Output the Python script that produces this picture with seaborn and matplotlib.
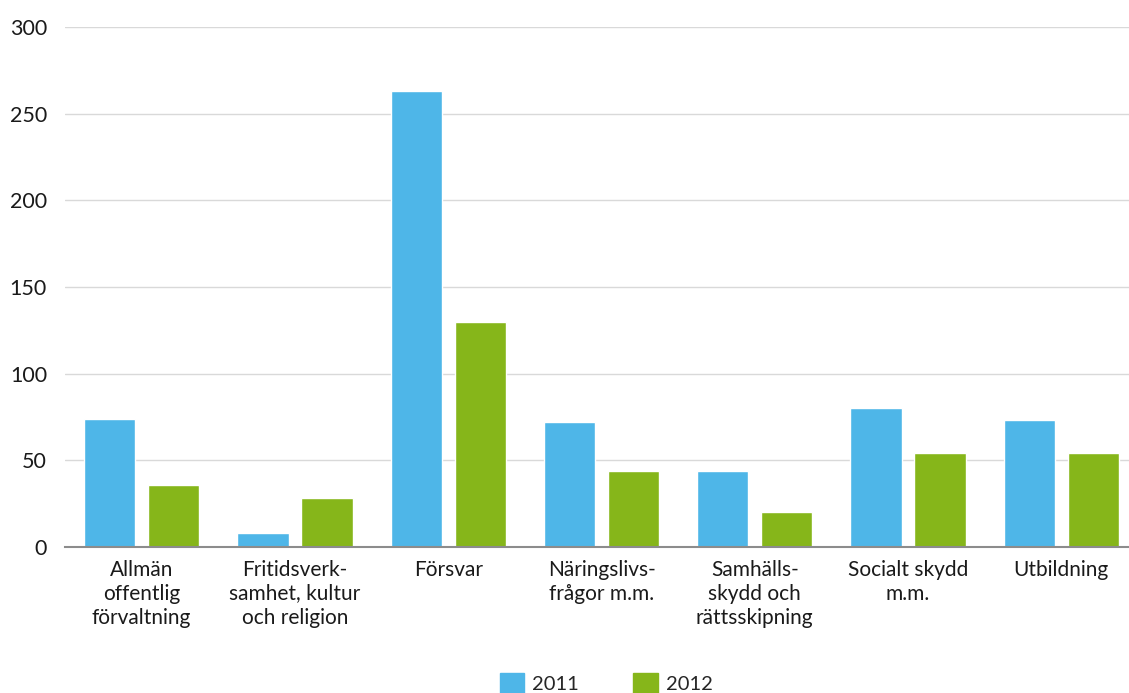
import pandas as pd
import numpy as np
import matplotlib.pyplot as plt
import seaborn as sns

categories = ["Allmän\noffentlig\nförvaltning", "Fritidsverk-\nsamhet, kultur\noch religion",
              "Försvar", "Näringslivs-\nfrågor m.m.", "Samhälls-\nskydd och\nrättsskipning",
              "Socialt skydd\nm.m.", "Utbildning"]
values_2011 = [74, 8, 263, 72, 44, 80, 73]
values_2012 = [36, 28, 130, 44, 20, 54, 54]
years = ["2011", "2012"]
colors = ["#4EB6E8", "#86B61A"]

df = pd.DataFrame({
    "kategori": categories * 2,
    "värde": values_2011 + values_2012,
    "år": [years[0]] * len(categories) + [years[1]] * len(categories),
})

sns.set_style("white")
plt.rcParams['font.family'] = ['Lato', 'DejaVu Sans']

fig = plt.figure(figsize=(11.29, 6.93), dpi=100)
ax = fig.add_axes([65 / 1129, 146 / 693, 1073 / 1129, 520 / 693])

sns.barplot(data=df, x="kategori", y="värde", hue="år", palette=colors,
            width=0.836, gap=0.2, ax=ax, legend=False, saturation=1)

ax.set_xlim(-0.5, len(categories) - 0.5)
ax.set_ylim(0, 300)
ax.set_yticks(range(0, 301, 50))
ax.yaxis.grid(True, color="#d9d9d9", linewidth=1)
ax.set_axisbelow(True)
ax.set_xlabel("")
ax.set_ylabel("")

for s in ["top", "right", "left"]:
    ax.spines[s].set_visible(False)
ax.spines["bottom"].set_color("#8c8c8c")
ax.spines["bottom"].set_linewidth(1.5)

ax.set_xticks(np.arange(len(categories)))
ax.set_xticklabels(categories, fontsize=15, color="#1a1a1a", linespacing=1.25, va="top")
ax.set_xticks(np.arange(0.5, len(categories) - 0.5), minor=True)
ax.tick_params(axis="x", which="major", length=0, pad=9)
ax.tick_params(axis="x", which="minor", length=5, width=1.2, color="#8c8c8c", direction="out")
ax.tick_params(axis="y", length=0, pad=13, labelsize=15.5, labelcolor="#1a1a1a")

handles = [plt.Rectangle((0, 0), 1, 1, color=c) for c in colors]
fig.legend(handles, years, loc="upper left", bbox_to_anchor=(500 / 1129, 20 / 693),
           frameon=False, ncol=2, fontsize=14.5, handlelength=1.2, handleheight=1.2,
           handletextpad=0.4, columnspacing=2.7, borderpad=0, borderaxespad=0)

fig.savefig("out.png", dpi=100)
